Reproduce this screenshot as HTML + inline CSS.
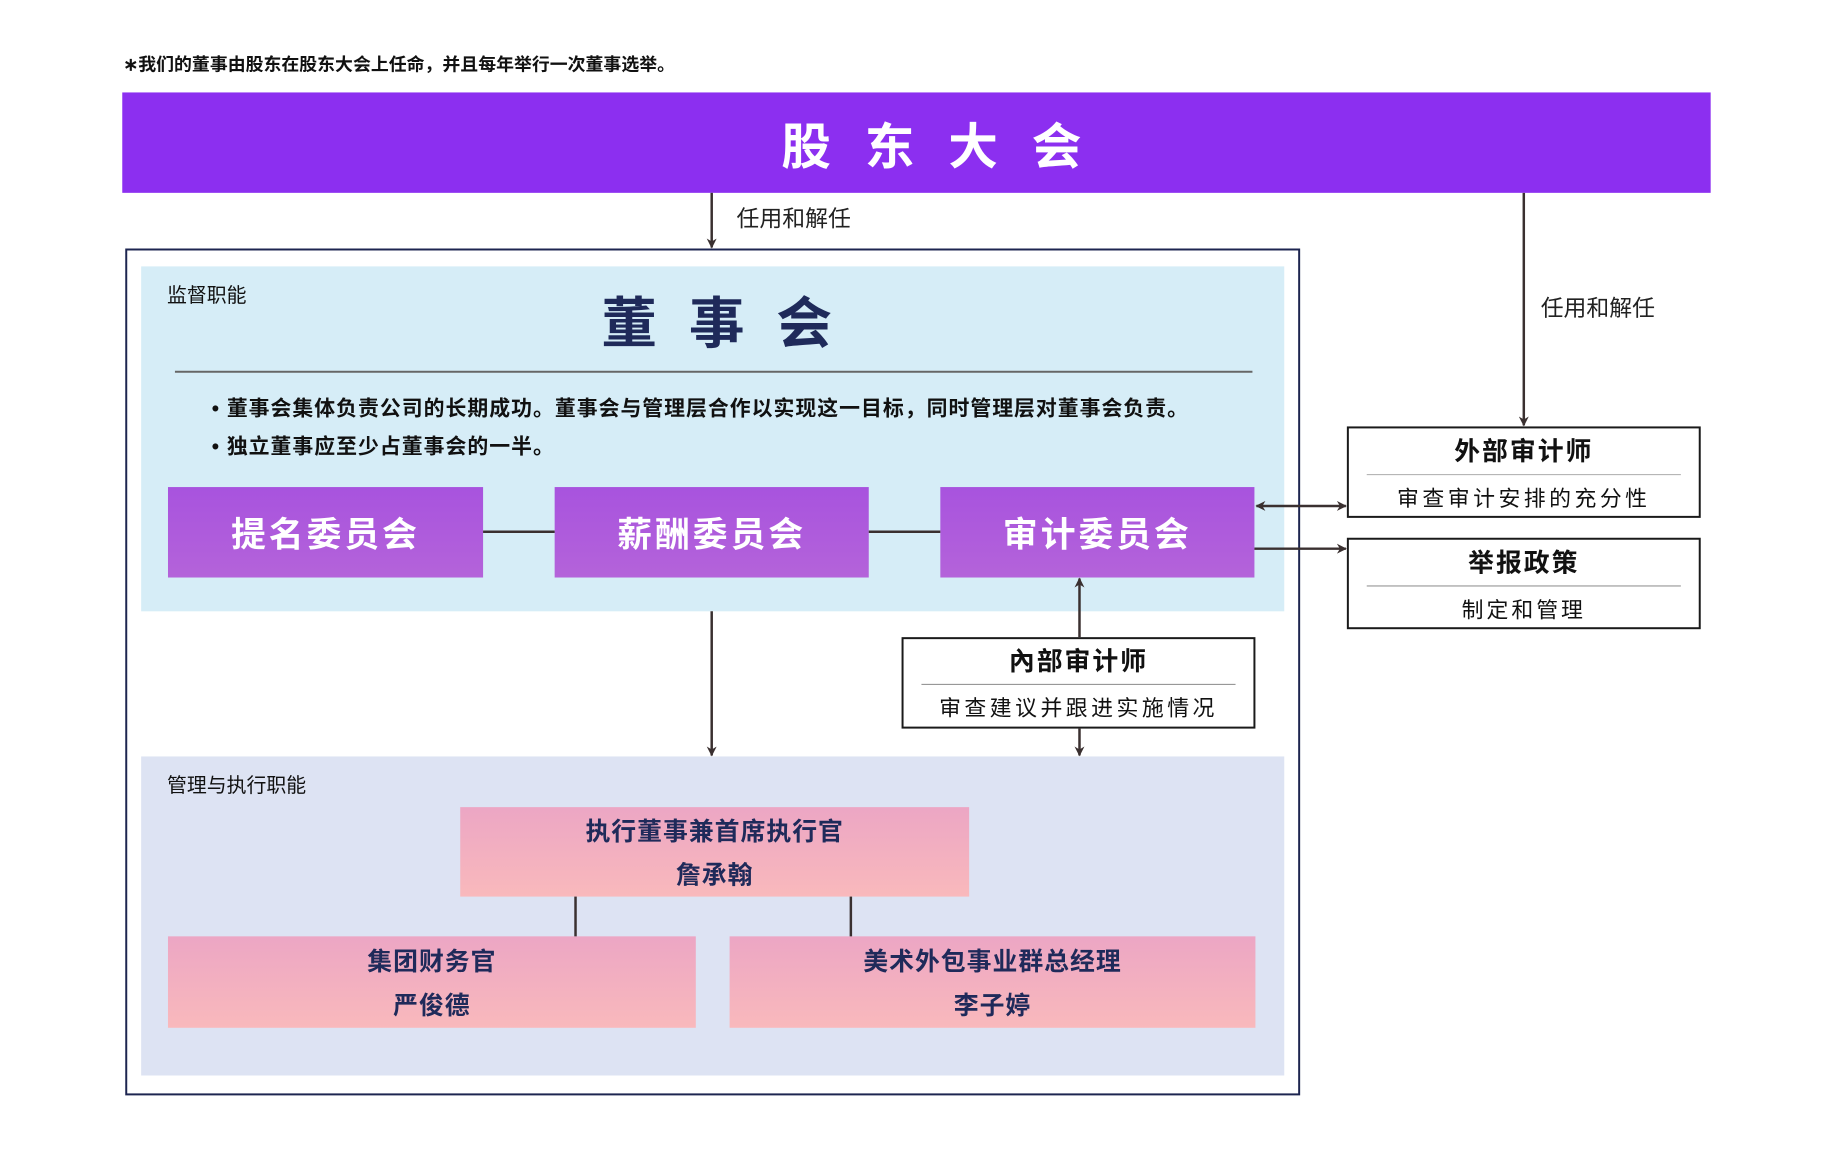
<!DOCTYPE html>
<html><head><meta charset="utf-8"><style>
body{margin:0;width:1835px;height:1155px;background:#fff;position:relative;overflow:hidden;font-family:"Liberation Sans","Noto Sans CJK SC",sans-serif;}
#w{position:absolute;left:0;top:0;width:1835px;height:1155px;transform:scale(0.994);transform-origin:0 0;}
.a{position:absolute;box-sizing:border-box;}
.c{display:flex;flex-direction:column;align-items:center;justify-content:center;text-align:center;}
.t{position:absolute;white-space:nowrap;line-height:1;}
.com{background:linear-gradient(#a853de,#b463da);color:#fff;font-weight:bold;font-size:35px;letter-spacing:3px;}
.pink{background:linear-gradient(#eca6c4,#f9b9bc);color:#1f2a5a;font-weight:bold;font-size:25px;letter-spacing:1px;}
.wb{background:#fff;border:2px solid #1a1a1a;}
</style></head><body><div id="w">
<div class="t" style="left:124px;top:56px;font-size:18px;font-weight:bold;color:#111;">∗我们的董事由股东在股东大会上任命，并且每年举行一次董事选举。</div>
<div class="a c" style="left:123px;top:93px;width:1598px;height:101px;background:#8c2ff0;color:#fff;font-weight:bold;font-size:50px;letter-spacing:34px;padding-left:64px;">股东大会</div>
<div class="t" style="left:741px;top:209px;font-size:23px;color:#222;">任用和解任</div>
<div class="t" style="left:1550px;top:299px;font-size:23px;color:#222;">任用和解任</div>
<div class="a" style="left:126px;top:250px;width:1182px;height:852px;border:2px solid #1d2550;"></div>
<div class="a" style="left:142px;top:268px;width:1150px;height:347px;background:#d6edf7;"></div>
<div class="a" style="left:142px;top:761px;width:1150px;height:321px;background:#dde3f3;"></div>
<div class="t" style="left:168px;top:288px;font-size:20px;color:#111;">监督职能</div>
<div class="t" style="left:168px;top:781px;font-size:20px;color:#111;">管理与执行职能</div>
<div class="t" style="left:605px;top:298px;font-size:56px;font-weight:bold;color:#1f2a5a;letter-spacing:32px;">董事会</div>
<div class="a" style="left:176px;top:373px;width:1084px;height:2px;background:#666;"></div>
<div class="t" style="left:213px;top:401px;font-size:21px;font-weight:bold;color:#111;letter-spacing:1px;">• 董事会集体负责公司的长期成功。董事会与管理层合作以实现这一目标，同时管理层对董事会负责。</div>
<div class="t" style="left:213px;top:439px;font-size:21px;font-weight:bold;color:#111;letter-spacing:1px;">• 独立董事应至少占董事会的一半。</div>
<div class="a c com" style="left:169px;top:490px;width:317px;height:91px;">提名委员会</div>
<div class="a c com" style="left:558px;top:490px;width:316px;height:91px;">薪酬委员会</div>
<div class="a c com" style="left:946px;top:490px;width:316px;height:91px;">审计委员会</div>
<div class="a c wb" style="left:907px;top:641px;width:356px;height:92px;">
<div style="font-size:26px;font-weight:bold;color:#111;margin-top:-2px;letter-spacing:2px;">內部审计师</div>
<div style="width:316px;height:1px;background:#888;margin:6px 0 6px;"></div>
<div style="font-size:22px;color:#111;letter-spacing:3.5px;">审查建议并跟进实施情况</div></div>
<div class="a c wb" style="left:1355px;top:429px;width:356px;height:92px;">
<div style="font-size:26px;font-weight:bold;color:#111;letter-spacing:2px;">外部审计师</div>
<div style="width:316px;height:1px;background:#aaa;margin:6px 0 6px;"></div>
<div style="font-size:22px;color:#111;letter-spacing:3.5px;">审查审计安排的充分性</div></div>
<div class="a c wb" style="left:1355px;top:541px;width:356px;height:92px;">
<div style="font-size:26px;font-weight:bold;color:#111;letter-spacing:2px;">举报政策</div>
<div style="width:316px;height:1px;background:#888;margin:6px 0 6px;"></div>
<div style="font-size:22px;color:#111;letter-spacing:3px;">制定和管理</div></div>
<div class="a c pink" style="left:463px;top:812px;width:512px;height:90px;"><div>执行董事兼首席执行官</div><div style="margin-top:8px;">詹承翰</div></div>
<div class="a c pink" style="left:169px;top:942px;width:531px;height:92px;"><div>集团财务官</div><div style="margin-top:8px;">严俊德</div></div>
<div class="a c pink" style="left:734px;top:942px;width:529px;height:92px;"><div>美术外包事业群总经理</div><div style="margin-top:8px;">李子婷</div></div>
<svg class="a" style="left:0;top:0" width="1835" height="1155">
<defs><marker id="m" markerWidth="10" markerHeight="10" refX="9" refY="5" orient="auto-start-reverse" markerUnits="userSpaceOnUse"><path d="M0,0 L10,5 L0,10 L3,5Z" fill="#3a3030"/></marker></defs>
<g stroke="#3a3030" stroke-width="2.5" fill="none">
<line x1="716" y1="194" x2="716" y2="249" marker-end="url(#m)"/>
<line x1="1533" y1="194" x2="1533" y2="428" marker-end="url(#m)"/>
<line x1="716" y1="615" x2="716" y2="760" marker-end="url(#m)"/>
<line x1="1086" y1="641" x2="1086" y2="582" marker-end="url(#m)"/>
<line x1="1086" y1="733" x2="1086" y2="760" marker-end="url(#m)"/>
<line x1="1264" y1="509" x2="1354" y2="509" marker-start="url(#m)" marker-end="url(#m)"/>
<line x1="1262" y1="552" x2="1354" y2="552" marker-end="url(#m)"/>
<line x1="486" y1="535" x2="558" y2="535"/>
<line x1="874" y1="535" x2="946" y2="535"/>
<line x1="579" y1="902" x2="579" y2="942"/>
<line x1="856" y1="902" x2="856" y2="942"/>
</g></svg>
</div></body></html>
